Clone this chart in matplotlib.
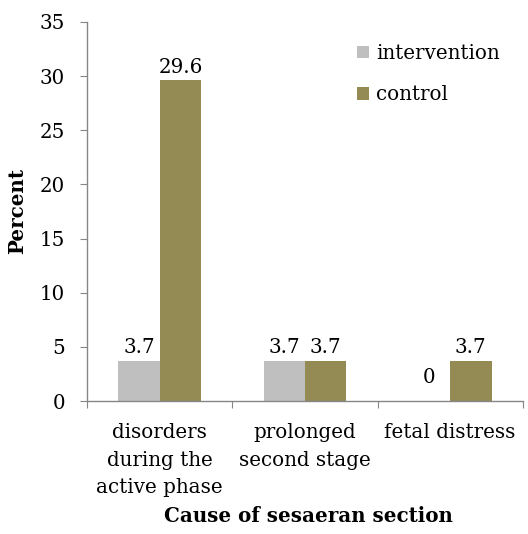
import matplotlib
matplotlib.use("Agg")
import matplotlib.pyplot as plt
import numpy as np

categories = ["disorders\nduring the\nactive phase", "prolonged\nsecond stage", "fetal distress"]
intervention = [3.7, 3.7, 0]
control = [29.6, 3.7, 3.7]
series_names = ["intervention", "control"]
yticks = [0, 5, 10, 15, 20, 25, 30, 35]

plt.rcParams['font.family'] = ['DejaVu Serif']
fig = plt.figure(figsize=(5.28, 5.34), dpi=100)
ax = fig.add_axes([0.165, 0.249, 0.825, 0.71])

x = np.arange(len(categories))
w = 0.285
c_int = "#BFBFBF"
c_ctl = "#948A54"
b1 = ax.bar(x - w/2, intervention, w, color=c_int, label=series_names[0])
b2 = ax.bar(x + w/2, control, w, color=c_ctl, label=series_names[1])

fs = 14.3
for rect, v in zip(b1, intervention):
    cx = rect.get_x() + rect.get_width()/2
    if v == 0:
        ax.text(cx, 2.2, "0", ha="center", va="center", fontsize=fs)
    else:
        ax.text(cx, v + 0.35, f"{v:g}", ha="center", va="bottom", fontsize=fs)
for rect, v in zip(b2, control):
    cx = rect.get_x() + rect.get_width()/2
    ax.text(cx, v + 0.35, f"{v:g}", ha="center", va="bottom", fontsize=fs)

ax.set_xlim(-0.5, 2.5)
ax.set_ylim(0, 35)
ax.set_yticks(yticks)
ax.tick_params(axis='y', labelsize=fs, direction='out', length=5, color="#868686", pad=11)
ax.set_xticks([-0.5, 0.5, 1.5, 2.5])
ax.set_xticklabels([])
ax.set_xticks(x, minor=True)
ax.set_xticklabels(categories, minor=True, fontsize=fs, linespacing=1.55, va="top")
ax.tick_params(axis='x', which='major', direction='out', length=5, color="#868686")
ax.tick_params(axis='x', which='minor', length=0, pad=16)

for s in ["top", "right"]:
    ax.spines[s].set_visible(False)
for s in ["left", "bottom"]:
    ax.spines[s].set_color("#868686")
    ax.spines[s].set_linewidth(1.0)

ax.set_ylabel("Percent", fontsize=fs, fontweight="bold")
ax.yaxis.set_label_coords(-0.138, 0.5)
ax.set_xlabel("Cause of sesaeran section", fontsize=fs, fontweight="bold")
ax.xaxis.set_label_coords(0.508, -0.276)

ax.legend(loc="upper left", bbox_to_anchor=(357/528, 1 - 44/534), bbox_transform=fig.transFigure,
          frameon=False, fontsize=fs, borderpad=0, borderaxespad=0,
          handlelength=0.6, handleheight=0.6, handletextpad=0.35, labelspacing=1.12)

fig.savefig("out.png", dpi=100)
